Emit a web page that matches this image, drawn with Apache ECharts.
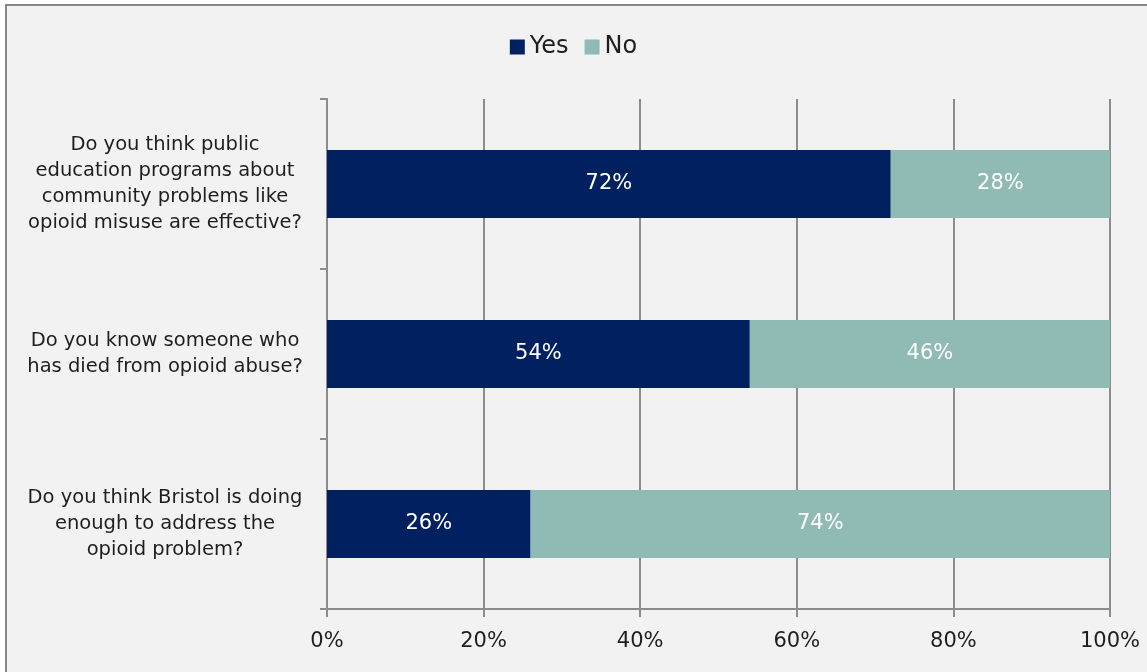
<!DOCTYPE html>
<html>
<head>
<meta charset="utf-8">
<script src="https://cdn.jsdelivr.net/npm/echarts@6/dist/echarts.min.js"></script>
<style>
  html, body { margin: 0; padding: 0; background: #ffffff; }
  #chart { width: 1147px; height: 672px; }
</style>
</head>
<body>
<div id="chart"></div>
<script>
// Survey questions (top to bottom)
const questions = [
  'Do you think public\neducation programs about\ncommunity problems like\nopioid misuse are effective?',
  'Do you know someone who\nhas died from opioid abuse?',
  'Do you think Bristol is doing\nenough to address the\nopioid problem?'
];
// Share of answers, percent
const yesValues = [72, 54, 26];
const noValues = [28, 46, 74];
// Percent axis ticks
const axisTicks = [0, 20, 40, 60, 80, 100];

const FONT = '"DejaVu Sans", "Noto Sans", sans-serif';
const TEXT = '#1e1e1e';

const chart = echarts.init(document.getElementById('chart'), null, { renderer: 'canvas' });

const barLabel = {
  show: true,
  position: 'inside',
  color: '#ffffff',
  fontFamily: FONT,
  fontSize: 21,
  formatter: p => p.value + '%'
};

chart.setOption({
  backgroundColor: '#ffffff',
  animation: false,
  graphic: [{
    type: 'rect',
    z: -10,
    shape: { x: 6, y: 5, width: 1160, height: 690 },
    style: { fill: '#f2f2f2', stroke: '#868686', lineWidth: 2 }
  }],
  legend: {
    left: 'center',
    top: 30,
    itemWidth: 15,
    itemHeight: 15,
    itemGap: 16,
    icon: 'rect',
    textStyle: { fontFamily: FONT, fontSize: 24, color: TEXT, padding: [0, 0, 0, 0] },
    data: ['Yes', 'No']
  },
  grid: { left: 327, right: 37, top: 99, bottom: 63, containLabel: false },
  xAxis: {
    type: 'value',
    min: axisTicks[0],
    max: axisTicks[axisTicks.length - 1],
    interval: axisTicks[1] - axisTicks[0],
    axisLine: { show: true, lineStyle: { color: '#8c8c8c', width: 2 } },
    axisTick: { show: true, length: 8, lineStyle: { color: '#8c8c8c', width: 2 } },
    splitLine: { show: true, lineStyle: { color: '#8c8c8c', width: 2 } },
    axisLabel: {
      formatter: '{value}%',
      fontFamily: FONT,
      fontSize: 21,
      color: TEXT,
      margin: 22
    }
  },
  yAxis: {
    type: 'category',
    inverse: true,
    data: questions,
    axisLine: { show: true, lineStyle: { color: '#8c8c8c', width: 2 } },
    axisTick: { show: true, length: 7, lineStyle: { color: '#8c8c8c', width: 2 } },
    axisLabel: {
      align: 'center',
      margin: 162,
      fontFamily: FONT,
      fontSize: 19.5,
      lineHeight: 26,
      color: TEXT
    }
  },
  series: [
    {
      name: 'Yes',
      type: 'bar',
      stack: 'answers',
      barCategoryGap: '60%',
      itemStyle: { color: '#002060' },
      label: barLabel,
      data: yesValues
    },
    {
      name: 'No',
      type: 'bar',
      stack: 'answers',
      barCategoryGap: '60%',
      itemStyle: { color: '#8fbbb4' },
      label: barLabel,
      data: noValues
    }
  ]
});
</script>
</body>
</html>
